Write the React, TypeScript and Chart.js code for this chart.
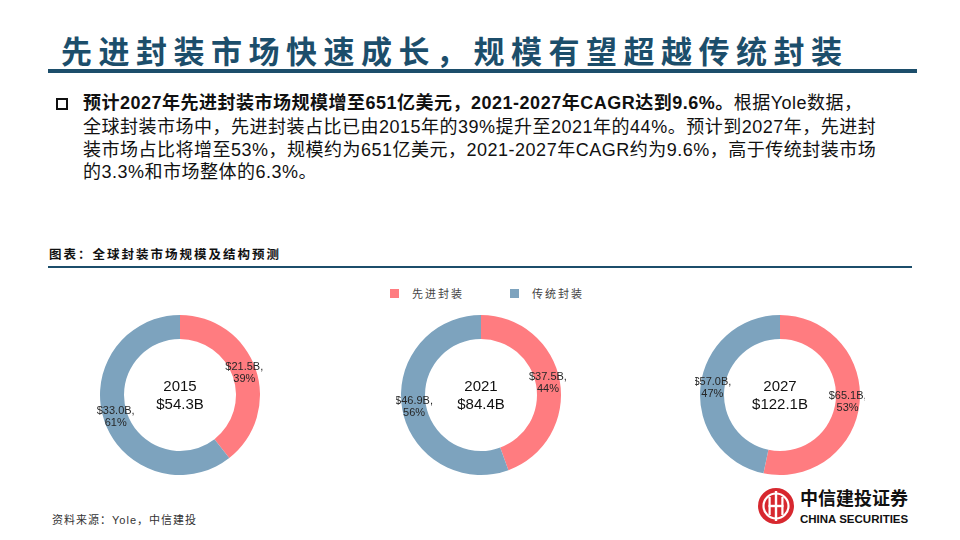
import React, { useEffect, useRef } from "react";
import { Chart, registerables } from "chart.js";

Chart.register(...registerables);

const years = ["2015", "2021", "2027"];
const categories = ["先进封装", "传统封装"];
const advanced = [21.5, 37.5, 65.1];
const traditional = [33.0, 46.9, 57.0];
const advancedPct = ["39%", "44%", "53%"];
const traditionalPct = ["61%", "56%", "47%"];
const totals = ["$54.3B", "$84.4B", "$122.1B"];

const RED = "#FF7C80";
const BLUE = "#7DA3BE";
const NAVY = "#1C4E6B";
const SANS = "'Liberation Sans', Arial, 'Noto Sans CJK SC', sans-serif";

function Donut({ idx, cx, cy }: { idx: number; cx: number; cy: number }) {
  const ref = useRef<HTMLCanvasElement>(null);
  useEffect(() => {
    if (!ref.current) return;
    const labelPlugin = {
      id: "donutLabels",
      afterDatasetsDraw(chart: any) {
        const ctx = chart.ctx;
        const meta = chart.getDatasetMeta(0);
        ctx.save();
        ctx.textAlign = "center";
        ctx.textBaseline = "middle";
        ctx.font = "11px " + SANS;
        ctx.fillStyle = "#262626";
        meta.data.forEach((arc: any, i: number) => {
          const p = arc.getCenterPoint();
          const val = i === 0 ? advanced[idx] : traditional[idx];
          const pct = i === 0 ? advancedPct[idx] : traditionalPct[idx];
          ctx.fillText("$" + val.toFixed(1) + "B,", p.x, p.y - 6);
          ctx.fillText(pct, p.x, p.y + 6);
        });
        const a = meta.data[0];
        ctx.font = "15px " + SANS;
        ctx.fillStyle = "#111";
        ctx.fillText(years[idx], a.x, a.y - 8);
        ctx.fillText(totals[idx], a.x, a.y + 10);
        ctx.restore();
      },
    };
    const chart = new Chart(ref.current, {
      type: "doughnut",
      data: {
        labels: categories,
        datasets: [
          {
            data: [advanced[idx], traditional[idx]],
            backgroundColor: [RED, BLUE],
            borderWidth: 0,
          },
        ],
      },
      options: {
        responsive: false,
        animation: false,
        cutout: "70%",
        layout: { padding: 5 },
        plugins: { legend: { display: false }, tooltip: { enabled: false } },
      },
      plugins: [labelPlugin],
    });
    return () => chart.destroy();
  }, [idx]);
  return (
    <canvas
      ref={ref}
      width={170}
      height={170}
      style={{ position: "absolute", left: cx - 85, top: cy - 85, width: 170, height: 170 }}
    />
  );
}

export default function App() {
  const line: React.CSSProperties = {
    position: "absolute",
    left: 83,
    whiteSpace: "nowrap",
    fontSize: 18,
    letterSpacing: 0.5,
    fontFamily: "'Liberation Sans Narrow', 'Liberation Sans', 'Noto Sans CJK SC', sans-serif",
    color: "#111",
    lineHeight: "23px",
  };
  return (
    <div
      style={{
        position: "absolute",
        left: 0,
        top: 0,
        width: 960,
        height: 540,
        background: "#fff",
        overflow: "hidden",
        fontFamily: SANS,
      }}
    >
      <div
        style={{
          position: "absolute",
          left: 61,
          top: 30,
          fontSize: 31,
          letterSpacing: 6.5,
          fontWeight: 700,
          color: NAVY,
          fontFamily: "'Noto Sans CJK SC', sans-serif",
          whiteSpace: "nowrap",
          lineHeight: "40px",
        }}
      >
        先进封装市场快速成长，规模有望超越传统封装
      </div>
      <div style={{ position: "absolute", left: 48, top: 69, width: 869, height: 4, background: NAVY }} />

      <div
        style={{
          position: "absolute",
          left: 56,
          top: 98,
          width: 8,
          height: 8,
          border: "2px solid #111",
        }}
      />
      <div style={{ ...line, top: 92 }}>
        <b>预计2027年先进封装市场规模增至651亿美元，2021-2027年CAGR达到9.6%。</b>根据Yole数据，
      </div>
      <div style={{ ...line, top: 116 }}>
        全球封装市场中，先进封装占比已由2015年的39%提升至2021年的44%。预计到2027年，先进封
      </div>
      <div style={{ ...line, top: 139 }}>
        装市场占比将增至53%，规模约为651亿美元，2021-2027年CAGR约为9.6%，高于传统封装市场
      </div>
      <div style={{ ...line, top: 161 }}>的3.3%和市场整体的6.3%。</div>

      <div
        style={{
          position: "absolute",
          left: 49,
          top: 246,
          fontSize: 12.5,
          fontWeight: 700,
          letterSpacing: 2,
          color: "#111",
          fontFamily: "'Noto Sans CJK SC', sans-serif",
          whiteSpace: "nowrap",
          lineHeight: "16px",
        }}
      >
        图表：全球封装市场规模及结构预测
      </div>
      <div style={{ position: "absolute", left: 48, top: 266, width: 864, height: 2, background: NAVY }} />

      <div style={{ position: "absolute", left: 390, top: 289, width: 9, height: 9, background: RED }} />
      <div
        style={{
          position: "absolute",
          left: 412,
          top: 286,
          fontSize: 11,
          letterSpacing: 2,
          color: "#444",
          fontFamily: "'Noto Sans CJK SC', sans-serif",
          lineHeight: "15px",
        }}
      >
        {categories[0]}
      </div>
      <div style={{ position: "absolute", left: 510, top: 289, width: 9, height: 9, background: BLUE }} />
      <div
        style={{
          position: "absolute",
          left: 532,
          top: 286,
          fontSize: 11,
          letterSpacing: 2,
          color: "#444",
          fontFamily: "'Noto Sans CJK SC', sans-serif",
          lineHeight: "15px",
        }}
      >
        {categories[1]}
      </div>

      <Donut idx={0} cx={180} cy={395} />
      <Donut idx={1} cx={481} cy={395} />
      <Donut idx={2} cx={780} cy={395} />

      <div
        style={{
          position: "absolute",
          left: 52,
          top: 513,
          fontSize: 11,
          letterSpacing: 1,
          color: "#333",
          whiteSpace: "nowrap",
          lineHeight: "15px",
          fontFamily: "'Liberation Sans', 'Noto Sans CJK SC', sans-serif",
        }}
      >
        资料来源：Yole，中信建投
      </div>

      <svg style={{ position: "absolute", left: 757, top: 487 }} width={38} height={38} viewBox="0 0 38 38">
        <circle cx={19} cy={19} r={18} fill="#D7282F" />
        <circle cx={19} cy={19} r={12.5} fill="none" stroke="#fff" strokeWidth={2.2} />
        <rect x={17.8} y={4} width={2.4} height={30} fill="#fff" />
        <rect x={11.5} y={10} width={2.2} height={18} fill="#fff" />
        <rect x={24.3} y={10} width={2.2} height={18} fill="#fff" />
        <rect x={11.5} y={17.8} width={15} height={2.4} fill="#fff" />
      </svg>
      <div
        style={{
          position: "absolute",
          left: 800,
          top: 486,
          fontSize: 18,
          fontWeight: 700,
          color: "#111",
          fontFamily: "'Noto Sans CJK SC', sans-serif",
          whiteSpace: "nowrap",
          lineHeight: "22px",
        }}
      >
        中信建投证券
      </div>
      <div
        style={{
          position: "absolute",
          left: 800,
          top: 512,
          fontSize: 11.5,
          fontWeight: 700,
          color: "#111",
          fontFamily: "'Liberation Sans', Arial, sans-serif",
          whiteSpace: "nowrap",
          lineHeight: "14px",
        }}
      >
        CHINA SECURITIES
      </div>
    </div>
  );
}
